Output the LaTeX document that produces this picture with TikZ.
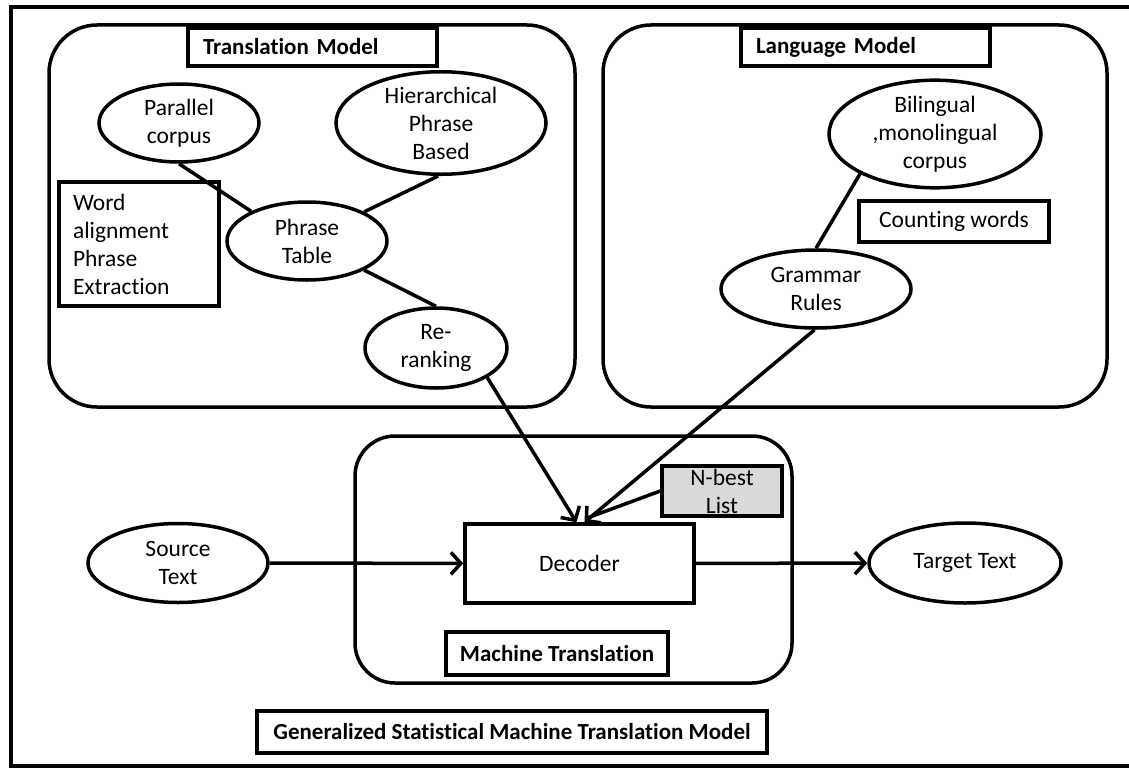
\documentclass[tikz,border=0pt]{standalone}
\usepackage{fontspec}
\setmainfont{Carlito}[Ligatures=NoCommon]
\usetikzlibrary{
	shapes.geometric,
	positioning,
	arrows.meta
}
\definecolor{nbgray}{RGB}{217,217,217}

\begin{document}
\begin{tikzpicture}[
	x=1pt, y=-1pt,
	line width=3.5pt,
	font=\fontsize{23.5}{28}\selectfont,
	panel/.style={draw,rectangle,rounded corners=48pt,inner sep=0pt},
	oval/.style={draw,ellipse,inner sep=0pt,align=center},
	tag/.style={draw,rectangle,inner sep=0pt,font=\fontsize{23}{28}\selectfont\bfseries},
	box/.style={draw,rectangle,inner sep=0pt,align=center},
	arr/.style={-{Straight Barb[length=10pt,width=22pt]}}
]
	\useasboundingbox (0,0) rectangle (1129,768);
	\clip (0,0) rectangle (1129,768);
	\draw (11,7) rectangle (1135,766);

	\draw
		node [panel,minimum width=526pt,minimum height=382pt] (tm) at (312,216) {}
		node [panel,minimum width=504pt,minimum height=382pt] (lm) at (855,216) {}
		node [panel,rounded corners=40pt,minimum width=437pt,minimum height=247pt] (mt) at (573.5,559.5) {}

		node [tag,text width=219pt,inner xsep=15pt,minimum height=38pt,align=left] (tmlbl) at (312.5,47) {Translation Model}
		node [tag,text width=219pt,inner xsep=15pt,minimum height=38pt,align=left] (lmlbl) at (865.5,47) {Language Model}
		node [tag,minimum width=222pt,minimum height=43pt] (mtlbl) at (557,653.5) {Machine Translation}
		node [tag,minimum width=510pt,minimum height=42pt] (gen)   at (512,732)   {Generalized Statistical Machine Translation Model}

		node [oval,minimum width=160pt,minimum height=78pt] (pc)  at (179,123) {Parallel\\corpus}
		node [oval,minimum width=210pt,minimum height=97pt] (hpb) at (441,123) {Hierarchical\\Phrase\\Based}
		node [oval,minimum width=160pt,minimum height=78pt] (pt)  at (307,241) {Phrase\\Table}
		node [oval,minimum width=142pt,minimum height=80pt] (rr)  at (436,348) {Re-\\ranking}
		node [box,text width=132pt,inner xsep=14pt,minimum height=124pt,align=left] (wa) at (139,244)
			{Word\\alignment\\Phrase\\Extraction}

		node [oval,minimum width=212pt,minimum height=98pt] (blc) at (935,134) {Bilingual\\,monolingual\\corpus}
		node [box,minimum width=190pt,minimum height=41pt] (cw) at (954,221.5) {Counting words}
		node [oval,minimum width=190pt,minimum height=78pt] (gr)  at (816,289) {Grammar\\Rules}

		node [box,fill=nbgray,minimum width=120pt,minimum height=50pt] (nb) at (722,491) {N-best\\List}
		node [box,minimum width=229pt,minimum height=79pt] (dec) at (579.5,563.5) {Decoder}
		node [oval,minimum width=180pt,minimum height=79pt] (src) at (178,563) {Source\\Text}
		node [oval,minimum width=192pt,minimum height=80pt] (tgt) at (965,563) {Target Text}

		(pc.-90)  edge (pt.152)
		(hpb.-93) edge (pt.27)
		(pt.-27)  edge (rr.90)
		(blc.-152) edge (gr.90)

		(rr.-30)  edge[arr] ([xshift=-3pt]dec.north)
		(gr.-92)  edge[arr] ([xshift=5pt]dec.north)
		(nb.west) edge ([xshift=7pt,yshift=4pt]dec.north)
		(src)     edge[arr] (dec)
		(dec)     edge[arr] (tgt)
	;
\end{tikzpicture}
\end{document}
